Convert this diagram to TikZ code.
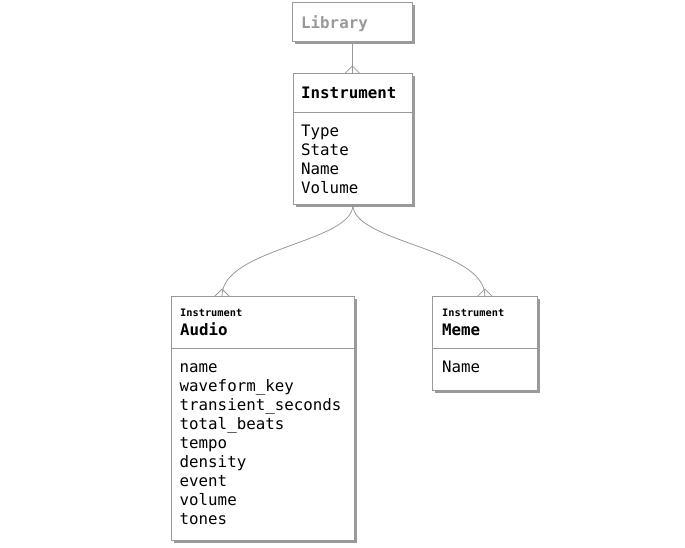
\documentclass[tikz,border=0pt]{standalone}
\usepackage{fontspec}
\setmonofont{DejaVu Sans Mono}
\usetikzlibrary{shadows}
\definecolor{edge}{HTML}{999999}
\definecolor{shade}{HTML}{9A9A9A}
\definecolor{libtext}{HTML}{999999}
\tikzset{
 box/.style={draw=edge, fill=white, line width=0.8pt, rectangle, inner sep=0pt, anchor=north west,
   drop shadow={shadow xshift=3pt, shadow yshift=-3pt, fill=shade, opacity=1}},
 ttl/.style={anchor=base west, inner sep=0pt, font=\ttfamily\bfseries\fontsize{15.8}{19}\selectfont},
 attr/.style={anchor=base west, inner sep=0pt, font=\ttfamily\fontsize{15.8}{19}\selectfont},
 smalltt/.style={anchor=base west, inner sep=0pt, font=\ttfamily\bfseries\fontsize{10.3}{12}\selectfont},
 sepline/.style={draw=edge, line width=0.8pt},
 link/.style={draw=edge, line width=0.8pt},
}
\begin{document}
\begin{tikzpicture}[x=1pt,y=-1pt]
\useasboundingbox (0,0) rectangle (685,547);
% Library
\node[box, minimum width=120pt, minimum height=39pt] (lib) at (292,2) {};
\node[ttl, text=libtext] (libt) at (301,28) {Library};
% Instrument
\node[box, minimum width=119pt, minimum height=131pt] (ins) at (293,73) {};
\node[ttl] (inst) at (301,98) {Instrument};
\draw[sepline] ([yshift=-39.5pt]ins.north west) -- ([yshift=-39.5pt]ins.north east);
\foreach \t [count=\i] in {Type,State,Name,Volume}
  \node[attr] (ia\i) at (301,{136+19*(\i-1)}) {\t};
% Audio
\node[box, minimum width=183pt, minimum height=244pt] (aud) at (171,296) {};
\node[smalltt] (audp) at (180,316.2) {Instrument};
\node[ttl] (audt) at (180,335) {Audio};
\draw[sepline] ([yshift=-52.5pt]aud.north west) -- ([yshift=-52.5pt]aud.north east);
\foreach \t [count=\i] in {name,waveform\_key,transient\_seconds,total\_beats,tempo,density,event,volume,tones}
  \node[attr] (aa\i) at (179.5,{372.5+19*(\i-1)}) {\t};
% Meme
\node[box, minimum width=105pt, minimum height=94pt] (meme) at (432,296) {};
\node[smalltt] (memep) at (442,316.2) {Instrument};
\node[ttl] (memet) at (442,335) {Meme};
\draw[sepline] ([yshift=-52.5pt]meme.north west) -- ([yshift=-52.5pt]meme.north east);
\node[attr] (ma1) at (442,372.5) {Name};
% connectors
\coordinate (e0) at (lib.south |- ins.north);
\coordinate (ea) at ([xshift=51pt]aud.north west);
\coordinate (em) at (meme.north);
\draw[link] (lib.south) -- (e0);
\draw[link] ([xshift=-7pt]e0) -- ([yshift=7pt]e0) -- ([xshift=7pt]e0);
\draw[link] (ins.south) .. controls ([yshift=-38pt]ins.south) and ([yshift=48pt]ea) .. (ea);
\draw[link] ([xshift=-7pt]ea) -- ([yshift=7pt]ea) -- ([xshift=7pt]ea);
\draw[link] (ins.south) .. controls ([yshift=-38pt]ins.south) and ([yshift=48pt]em) .. (em);
\draw[link] ([xshift=-7pt]em) -- ([yshift=7pt]em) -- ([xshift=7pt]em);
\end{tikzpicture}
\end{document}
